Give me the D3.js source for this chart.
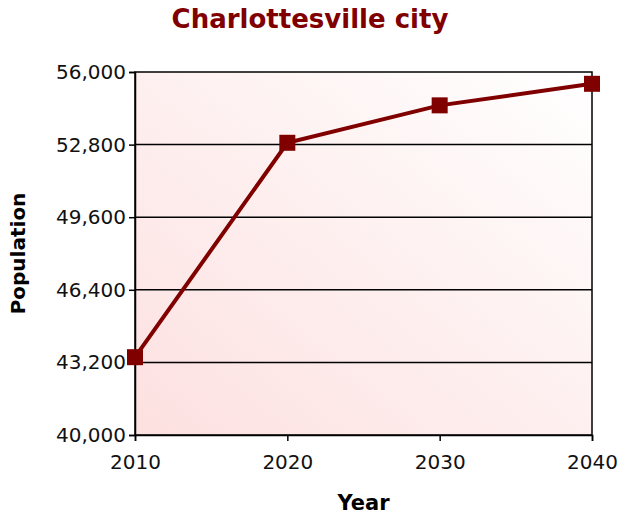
<!DOCTYPE html>
<html>
<head>
<meta charset="utf-8">
<script src="https://cdn.jsdelivr.net/npm/d3@7"></script>
<style>
  body { margin: 0; background: #fff; }
  text { font-family: "DejaVu Sans", Verdana, sans-serif; }
</style>
</head>
<body>
<svg id="chart" width="618" height="517"></svg>
<script>
const years = [2010, 2020, 2030, 2040];
const population = [43430, 52880, 54530, 55480];
const yTicks = [40000, 43200, 46400, 49600, 52800, 56000];

const margin = { top: 72, right: 26, bottom: 82, left: 135 };
const width = 618 - margin.left - margin.right;
const height = 517 - margin.top - margin.bottom;

const svg = d3.select("#chart");

const defs = svg.append("defs");
const grad = defs
  .append("linearGradient")
  .attr("id", "bg")
  .attr("x1", "0%")
  .attr("y1", "100%")
  .attr("x2", "100%")
  .attr("y2", "0%");
grad.append("stop").attr("offset", "0%").attr("stop-color", "#fde0e0");
grad.append("stop").attr("offset", "100%").attr("stop-color", "#ffffff");

const x = d3.scaleLinear().domain([2010, 2040]).range([0, width]);
const y = d3.scaleLinear().domain([40000, 56000]).range([height, 0]);

const g = svg
  .append("g")
  .attr("transform", "translate(" + margin.left + "," + margin.top + ")");

g.append("rect")
  .attr("width", width)
  .attr("height", height)
  .attr("fill", "url(#bg)");

// gridlines
g.append("g")
  .selectAll("line")
  .data(yTicks.slice(1, -1))
  .enter()
  .append("line")
  .attr("x1", 0)
  .attr("x2", width)
  .attr("y1", (d) => y(d))
  .attr("y2", (d) => y(d))
  .attr("stroke", "#000")
  .attr("stroke-width", 1.5);

g.append("rect")
  .attr("width", width)
  .attr("height", height)
  .attr("fill", "none")
  .attr("stroke", "#000")
  .attr("stroke-width", 1.5);

const yAxis = g
  .append("g")
  .call(d3.axisLeft(y).tickValues(yTicks).tickSize(6).tickPadding(3).tickFormat(d3.format(",")));
const xAxis = g
  .append("g")
  .attr("transform", "translate(0," + height + ")")
  .call(d3.axisBottom(x).tickValues(years).tickSize(6).tickPadding(14).tickFormat(d3.format("d")));

[yAxis, xAxis].forEach((a) => {
  a.select(".domain").attr("stroke", "#000").attr("stroke-width", 1.5);
  a.selectAll(".tick line").attr("stroke", "#000").attr("stroke-width", 1.5);
  a.selectAll("text")
    .attr("fill", "#111")
    .style("font-size", "20px")
    .style("font-family", "'DejaVu Sans', Verdana, sans-serif");
});

const line = d3
  .line()
  .x((d, i) => x(years[i]))
  .y((d) => y(d));

g.append("path")
  .datum(population)
  .attr("d", line)
  .attr("fill", "none")
  .attr("stroke", "#800000")
  .attr("stroke-width", 4);

g.append("g")
  .selectAll("rect")
  .data(population)
  .enter()
  .append("rect")
  .attr("x", (d, i) => x(years[i]) - 8)
  .attr("y", (d) => y(d) - 8)
  .attr("width", 16)
  .attr("height", 16)
  .attr("fill", "#800000");

svg.append("text")
  .attr("x", 310)
  .attr("y", 28)
  .attr("text-anchor", "middle")
  .attr("fill", "#800000")
  .style("font-size", "26px")
  .style("font-weight", "bold")
  .text("Charlottesville city");

svg.append("text")
  .attr("x", margin.left + width / 2)
  .attr("y", 510)
  .attr("text-anchor", "middle")
  .attr("fill", "#000")
  .style("font-size", "21px")
  .style("font-weight", "bold")
  .text("Year");

svg.append("text")
  .attr("transform", "translate(25," + (margin.top + height / 2) + ") rotate(-90)")
  .attr("text-anchor", "middle")
  .attr("fill", "#000")
  .style("font-size", "20px")
  .style("font-weight", "bold")
  .text("Population");
</script>
</body>
</html>
